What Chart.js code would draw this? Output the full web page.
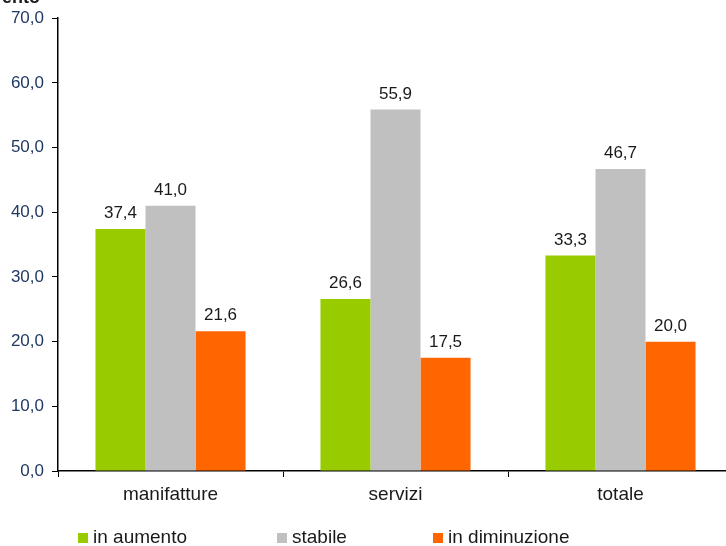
<!DOCTYPE html>
<html>
<head>
<meta charset="utf-8">
<script src="https://cdn.jsdelivr.net/npm/chart.js@4/dist/chart.umd.min.js"></script>
<style>
  html, body { margin: 0; padding: 0; background: #fff; overflow: hidden; }
  #wrap { position: relative; width: 740px; height: 546px; }
</style>
</head>
<body>
<div id="wrap"><canvas id="c"></canvas></div>
<script>
// Sectors and series (percent of firms)
const categories = ['manifatture', 'servizi', 'totale'];
const inAumento = [37.4, 26.6, 33.3];
const stabile = [41.0, 55.9, 46.7];
const inDiminuzione = [21.6, 17.5, 20.0];
const seriesNames = ['in aumento', 'stabile', 'in diminuzione'];
const yTicks = [0, 10, 20, 30, 40, 50, 60, 70];

const colors = ['#99cc00', '#c0c0c0', '#ff6600'];
const FONT = '"Liberation Sans", Arial, sans-serif';
const fmt = v => v.toFixed(1).replace('.', ',');

// Value labels above every bar
const valueLabels = {
  id: 'valueLabels',
  afterDatasetsDraw(chart) {
    const ctx = chart.ctx;
    ctx.save();
    ctx.font = '17px ' + FONT;
    ctx.fillStyle = '#1a1a1a';
    ctx.textAlign = 'center';
    ctx.textBaseline = 'bottom';
    chart.data.datasets.forEach((ds, i) => {
      chart.getDatasetMeta(i).data.forEach((bar, j) => {
        ctx.fillText(fmt(ds.data[j]), bar.x, bar.y - 7);
      });
    });
    ctx.restore();
  }
};

// Legend row at the bottom and the heading fragment at the top
const extras = {
  id: 'extras',
  afterDraw(chart) {
    const ctx = chart.ctx;
    ctx.save();
    ctx.font = 'bold 18px ' + FONT;
    ctx.fillStyle = '#1a1a1a';
    ctx.textBaseline = 'alphabetic';
    ctx.fillText('ento', 2, 3);

    const boxX = [78, 277, 433];
    ctx.font = '19px ' + FONT;
    ctx.textBaseline = 'middle';
    seriesNames.forEach((name, i) => {
      ctx.fillStyle = colors[i];
      ctx.fillRect(boxX[i], 533, 10, 10);
      ctx.fillStyle = '#1a1a1a';
      ctx.fillText(name, boxX[i] + 15, 538);
    });
    ctx.restore();
  }
};

const makeSet = (label, data, color) => ({
  label, data,
  backgroundColor: color,
  borderWidth: 0,
  categoryPercentage: 0.667,
  barPercentage: 1.0
});

new Chart(document.getElementById('c'), {
  type: 'bar',
  data: {
    labels: categories,
    datasets: [
      makeSet(seriesNames[0], inAumento, colors[0]),
      makeSet(seriesNames[1], stabile, colors[1]),
      makeSet(seriesNames[2], inDiminuzione, colors[2])
    ]
  },
  options: {
    responsive: true,
    maintainAspectRatio: false,
    animation: false,
    layout: { padding: { top: 18, right: 7, bottom: 35, left: 0 } },
    plugins: {
      legend: { display: false },
      tooltip: { enabled: false }
    },
    scales: {
      x: {
        grid: {
          display: true,
          offset: true,
          drawOnChartArea: false,
          drawTicks: true,
          tickLength: 6,
          color: '#000',
          lineWidth: 1
        },
        border: { display: true, color: '#000', width: 1.5 },
        ticks: {
          color: '#1a1a1a',
          font: { family: FONT, size: 19 },
          padding: 6
        },
        afterFit(scale) { scale.height = 40; }
      },
      y: {
        min: 0,
        max: 70,
        afterBuildTicks(scale) { scale.ticks = yTicks.map(v => ({ value: v })); },
        grid: {
          display: true,
          drawOnChartArea: false,
          drawTicks: true,
          tickLength: 6,
          color: '#000'
        },
        border: { display: true, color: '#000', width: 1.5 },
        ticks: {
          color: '#203864',
          font: { family: FONT, size: 17 },
          padding: 8,
          callback: v => fmt(v)
        },
        afterFit(scale) { scale.width = 58; }
      }
    }
  },
  plugins: [valueLabels, extras]
});
</script>
</body>
</html>
